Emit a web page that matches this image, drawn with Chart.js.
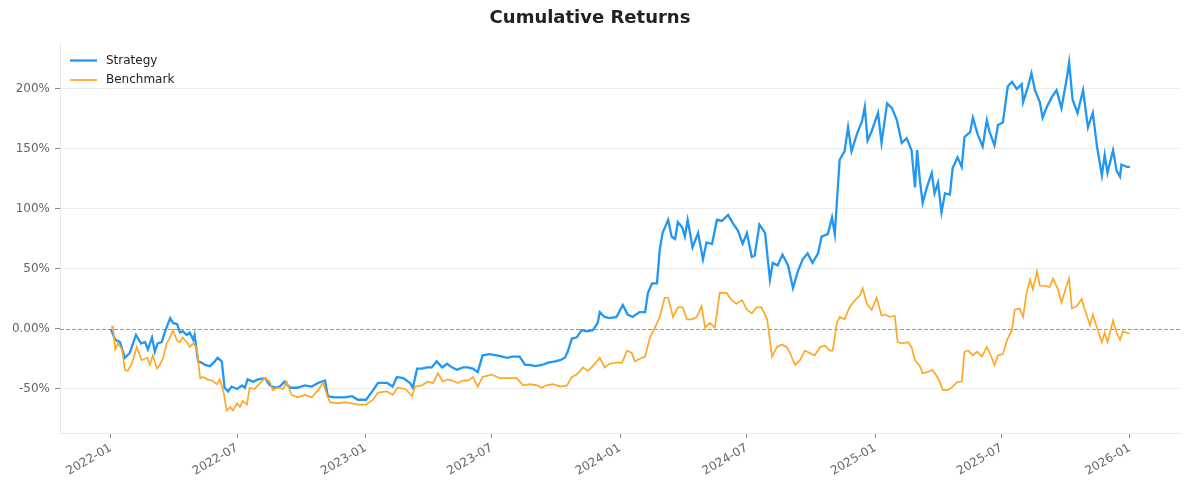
<!DOCTYPE html>
<html>
<head>
<meta charset="utf-8">
<title>Cumulative Returns</title>
<script src="https://cdn.jsdelivr.net/npm/chart.js@4.4.1/dist/chart.umd.min.js"></script>
<style>
  html, body { margin: 0; padding: 0; background: #fff; }
  #wrap { width: 1189px; height: 490px; }
</style>
</head>
<body>
<div id="wrap"><canvas id="chart" width="1189" height="490"></canvas></div>
<script>
// ===== DATA (days since 2022-01-01, cumulative return in %) =====
const strategyDays = [0,6,13,20,27,36,43,49,53,59,63,67,73,77,85,89,95,99,103,109,113,118,120,125,130,135,142,149,153,159,163,168,173,181,188,192,196,204,211,221,228,235,242,249,257,267,278,288,297,307,311,321,335,346,354,366,376,383,396,404,410,419,429,433,439,446,453,460,467,475,482,489,496,505,512,519,526,533,543,553,561,568,576,586,594,601,608,618,627,637,644,651,655,661,668,675,682,691,698,701,708,715,725,734,741,748,758,766,770,776,783,787,791,799,804,809,813,819,823,827,834,842,849,854,862,869,876,885,892,899,906,912,919,923,930,938,945,949,956,963,971,978,985,992,999,1006,1014,1019,1028,1034,1038,1041,1045,1052,1057,1062,1070,1077,1081,1085,1091,1100,1105,1113,1120,1127,1134,1141,1148,1153,1156,1160,1164,1170,1177,1181,1186,1191,1196,1203,1207,1214,1220,1224,1232,1236,1243,1250,1256,1260,1267,1272,1279,1286,1292,1299,1306,1308,1315,1320,1325,1332,1336,1342,1349,1356,1363,1371,1374,1379,1386,1394,1401,1408,1414,1421,1425,1429,1437,1442,1447,1449,1457,1461];
const strategyValues = [0,-9,-11,-24,-20,-5,-12,-11,-17,-7,-19,-12,-11,-3,9,5,4,-3,-2,-5,-3,-9,-5,-27,-28,-30,-31,-27,-24,-27,-49,-52,-48,-50,-47,-49,-42,-44,-42,-41,-47,-49,-48,-44,-49,-49,-47,-48,-45,-43,-56,-57,-57,-56,-59,-59,-51,-45,-45,-48,-40,-41,-45,-49,-33,-33,-32,-32,-27,-32,-29,-32,-34,-32,-32,-33,-36,-22,-21,-22,-23,-24,-23,-23,-30,-30,-31,-30,-28,-27,-26,-24,-19,-8,-7,-1,-2,-1,5,14,10,9,10,20,12,10,14,14,30,38,38,66,80,91,77,75,89,85,77,91,68,80,58,72,71,91,90,95,88,82,71,80,60,61,87,80,41,55,53,62,53,34,48,58,63,55,63,77,79,93,79,106,141,148,168,148,163,173,185,157,165,180,155,188,184,174,155,159,149,118,149,124,105,118,130,113,122,97,113,112,134,143,135,160,164,176,162,152,174,164,153,170,172,202,206,200,204,189,202,213,199,189,176,185,193,199,184,210,222,191,180,199,168,180,152,128,145,130,149,132,127,137,135,135];

const benchmarkDays = [0,3,6,10,16,20,24,30,37,44,52,56,60,66,70,75,80,85,89,95,99,103,109,113,118,123,128,132,138,145,152,156,161,166,171,175,181,185,189,195,199,206,214,221,228,232,239,247,252,259,268,278,288,297,304,310,314,325,335,346,354,366,376,383,396,404,411,422,432,436,446,454,462,469,476,483,490,497,505,512,519,526,533,546,558,569,582,591,601,611,618,625,634,644,654,661,668,677,684,691,701,708,715,725,733,740,747,751,758,766,773,780,787,794,799,806,813,820,826,833,840,847,852,859,866,873,883,890,897,905,912,919,926,933,941,948,955,962,969,973,981,988,995,1002,1009,1017,1024,1031,1035,1041,1045,1052,1059,1067,1074,1078,1084,1091,1098,1105,1110,1117,1124,1128,1135,1143,1148,1153,1160,1164,1171,1178,1184,1189,1193,1200,1207,1214,1220,1224,1229,1236,1242,1249,1256,1263,1267,1272,1279,1285,1292,1296,1303,1308,1313,1318,1322,1328,1332,1339,1346,1351,1358,1363,1371,1374,1378,1385,1392,1396,1404,1408,1414,1421,1425,1429,1437,1442,1447,1451,1461];
const benchmarkValues = [2,2,-17,-12,-17,-34,-35,-29,-15,-26,-24,-30,-22,-33,-30,-24,-12,-7,-1,-10,-11,-7,-11,-15,-12,-16,-41,-40,-42,-43,-46,-42,-51,-68,-65,-68,-62,-65,-60,-63,-49,-50,-45,-41,-44,-51,-49,-50,-44,-55,-57,-55,-57,-51,-45,-55,-61,-62,-61,-62,-63,-63,-59,-53,-52,-55,-49,-50,-56,-48,-47,-44,-45,-37,-44,-42,-43,-45,-43,-43,-40,-48,-40,-38,-41,-41,-41,-47,-46,-47,-49,-47,-46,-48,-47,-40,-38,-32,-35,-31,-24,-32,-29,-28,-28,-18,-20,-27,-25,-23,-7,1,10,26,26,10,18,18,8,8,10,19,1,5,1,30,30,24,21,24,16,13,18,18,8,-23,-15,-13,-15,-19,-30,-26,-18,-20,-22,-15,-14,-18,-18,5,10,8,18,24,28,34,21,16,26,11,12,10,11,-11,-12,-11,-15,-26,-31,-37,-36,-34,-39,-45,-51,-51,-48,-44,-44,-19,-18,-22,-19,-23,-15,-24,-30,-22,-21,-9,-1,16,17,10,30,41,33,48,36,36,35,42,33,22,37,42,17,19,25,17,3,12,1,-11,-3,-11,7,-3,-9,-2,-4];

const xTickDays = [0, 181, 365, 546, 730, 912, 1096, 1277, 1461];
const xTickLabels = ["2022-01", "2022-07", "2023-01", "2023-07", "2024-01", "2024-07", "2025-01", "2025-07", "2026-01"];
const yTicks = [-50, 0, 50, 100, 150, 200];

const FONT = "'DejaVu Sans', sans-serif";

// ===== PLUGINS =====
const zeroLine = {
  id: "zeroLine",
  beforeDatasetsDraw(chart) {
    const { ctx, chartArea, scales } = chart;
    const y = Math.round(scales.y.getPixelForValue(0)) + 0.5;
    ctx.save();
    ctx.strokeStyle = "#999";
    ctx.lineWidth = 1;
    ctx.setLineDash([4, 2]);
    ctx.beginPath();
    ctx.moveTo(chartArea.left, y);
    ctx.lineTo(chartArea.right, y);
    ctx.stroke();
    ctx.restore();
  },
};

const legendInside = {
  id: "legendInside",
  afterDraw(chart) {
    const { ctx, chartArea } = chart;
    ctx.save();
    ctx.font = "12px " + FONT;
    ctx.textBaseline = "middle";
    chart.data.datasets.forEach((ds, i) => {
      const y = chartArea.top + 17.5 + i * 19.5;
      ctx.strokeStyle = ds.borderColor;
      ctx.lineWidth = ds.borderWidth;
      ctx.beginPath();
      ctx.moveTo(chartArea.left + 10, y);
      ctx.lineTo(chartArea.left + 37, y);
      ctx.stroke();
      ctx.fillStyle = "#222";
      ctx.fillText(ds.label, chartArea.left + 46, y);
    });
    ctx.restore();
  },
};

// ===== CHART =====
const ctx = document.getElementById("chart").getContext("2d");

new Chart(ctx, {
  type: "line",
  data: {
    datasets: [
      {
        label: "Strategy",
        data: strategyDays.map((d, i) => ({ x: d, y: strategyValues[i] })),
        borderColor: "#2196F3",
        borderWidth: 2.3,
        pointRadius: 0,
        tension: 0,
        order: 1,
      },
      {
        label: "Benchmark",
        data: benchmarkDays.map((d, i) => ({ x: d, y: benchmarkValues[i] })),
        borderColor: "#FFA726",
        borderWidth: 1.7,
        pointRadius: 0,
        tension: 0,
        order: 0,
      },
    ],
  },
  options: {
    responsive: false,
    maintainAspectRatio: false,
    animation: false,
    devicePixelRatio: 1,
    layout: { padding: { left: 0, right: 9, top: 0, bottom: 0 } },
    plugins: {
      legend: { display: false },
      tooltip: { enabled: false },
      title: {
        display: true,
        text: "Cumulative Returns",
        color: "#222",
        font: { family: FONT, size: 18, weight: "bold" },
        padding: { top: 8, bottom: 13.4 },
      },
    },
    scales: {
      x: {
        type: "linear",
        min: -73,
        max: 1533,
        afterBuildTicks: (scale) => {
          scale.ticks = xTickDays.map((v) => ({ value: v }));
        },
        afterFit: (scale) => {
          scale.height = 57;
        },
        grid: {
          drawOnChartArea: false,
          color: "#888",
          tickColor: "#888",
          tickLength: 5,
        },
        border: { display: true, color: "#e6e6e6" },
        ticks: {
          autoSkip: false,
          maxRotation: 30,
          minRotation: 30,
          padding: 3,
          color: "#666",
          font: { family: FONT, size: 12 },
          callback: (v, i) => xTickLabels[i],
        },
      },
      y: {
        min: -86.7,
        max: 238.3,
        afterBuildTicks: (scale) => {
          scale.ticks = yTicks.map((v) => ({ value: v }));
        },
        afterFit: (scale) => {
          scale.width = 60;
        },
        grid: {
          color: (c) => (c.tick && c.tick.value === 0 ? "rgba(0,0,0,0)" : "#ebebeb"),
          tickColor: "#888",
          tickLength: 5,
        },
        border: { display: true, color: "#e6e6e6" },
        ticks: {
          padding: 5,
          color: "#666",
          font: { family: FONT, size: 12 },
          callback: (v) => (v === 0 ? "0.00%" : v + "%"),
        },
      },
    },
  },
  plugins: [zeroLine, legendInside],
});
</script>
</body>
</html>
